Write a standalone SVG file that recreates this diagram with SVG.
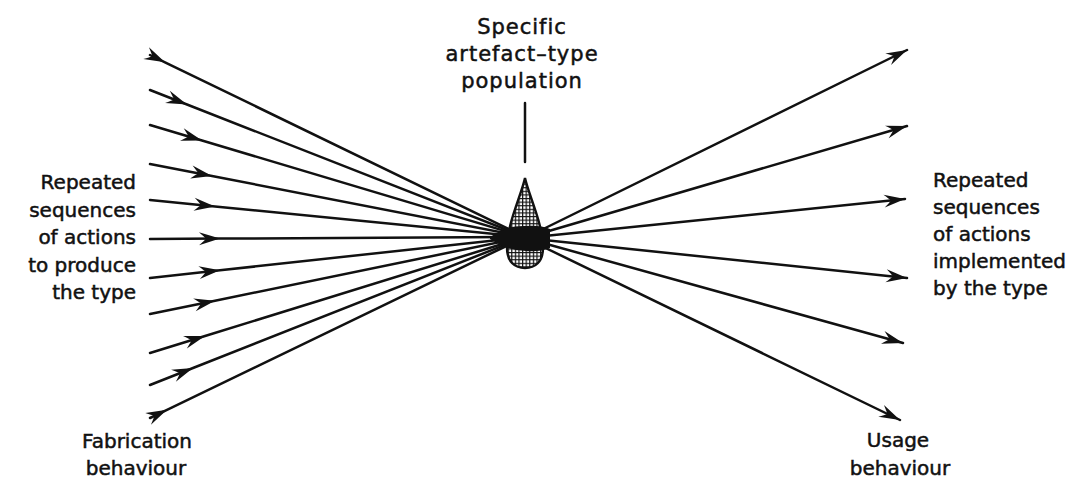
<svg xmlns="http://www.w3.org/2000/svg" width="1077" height="479" viewBox="0 0 1077 479">
<style>
  .lbl { font-family: "DejaVu Sans", "Liberation Sans", sans-serif; font-size: 20px; fill: #111; stroke: #111; stroke-width: 0.5; }
  .top { font-size: 21px; letter-spacing: 1px; }
  .ln { stroke: #111; stroke-width: 2.5; fill: none; stroke-linecap: round; }
  .in { marker-mid: url(#arr); }
  .out { marker-end: url(#arr); }
</style>
<defs>
  <marker id="arr" markerUnits="userSpaceOnUse" markerWidth="30" markerHeight="20" viewBox="-24 -10 30 20" refX="0" refY="0" orient="auto" overflow="visible">
    <path d="M0,0 L-21,-6.5 Q-16,-2 -14,0 Q-16,2 -21,6.5 Z" fill="#111"/>
  </marker>
  <pattern id="hatch" patternUnits="userSpaceOnUse" width="3.6" height="3.6">
    <rect width="3.6" height="3.6" fill="#fff"/>
    <path d="M0,0 H3.6 M0,0 V3.6" stroke="#111" stroke-width="2.4"/>
  </pattern>
</defs>
<rect width="1077" height="479" fill="#fff"/>

<g id="connectors">
  <path class="ln in" d="M150,55 L165,62.3 L525,237"/>
  <path class="ln in" d="M150,90 L187,104.5 L525,237"/>
  <path class="ln in" d="M150,125 L202,140.5 L525,237"/>
  <path class="ln in" d="M150,164 L212,176 L525,237"/>
  <path class="ln in" d="M150,200 L215,206.4 L525,237"/>
  <path class="ln in" d="M150,239 L220,238.6 L525,237"/>
  <path class="ln in" d="M150,278 L220,270.3 L525,237"/>
  <path class="ln in" d="M150,314 L215,300.7 L525,237"/>
  <path class="ln in" d="M150,353 L205,336 L525,237"/>
  <path class="ln in" d="M150,385 L193,368 L525,237"/>
  <path class="ln in" d="M150,418 L167,409.8 L525,237"/>
  <path class="ln out" d="M525,238 L907,50"/>
  <path class="ln out" d="M525,238 L907,126"/>
  <path class="ln out" d="M525,238 L905,199"/>
  <path class="ln out" d="M525,238 L907,278"/>
  <path class="ln out" d="M525,238 L903,343"/>
  <path class="ln out" d="M525,238 L900,420"/>
  <path class="ln" d="M525,103 L525,162" stroke-width="2.6"/>
</g>

<g id="population">
  <path d="M525,178 C521,196 507,224 507,248 C507,262 515,268 525,268 C535,268 543,262 543,248 C543,224 529,196 525,178 Z" fill="url(#hatch)" stroke="#111" stroke-width="2.4"/>
  <path d="M490,237 Q508,225 526,226 Q540,225 550,229 L550,248 Q540,252 526,251 Q508,251 490,239 Z" fill="#111"/>
  <text class="lbl top" text-anchor="middle" x="522" y="34">Specific</text>
  <text class="lbl top" text-anchor="middle" x="522" y="61">artefact–type</text>
  <text class="lbl top" text-anchor="middle" x="522" y="88">population</text>
</g>

<g id="fabrication">
  <text class="lbl" text-anchor="end" x="136" y="189">Repeated</text>
  <text class="lbl" text-anchor="end" x="136" y="216.5">sequences</text>
  <text class="lbl" text-anchor="end" x="136" y="244">of actions</text>
  <text class="lbl" text-anchor="end" x="136" y="271.5">to produce</text>
  <text class="lbl" text-anchor="end" x="136" y="299">the type</text>
  <text class="lbl" text-anchor="middle" x="137" y="448">Fabrication</text>
  <text class="lbl" text-anchor="middle" x="136" y="475">behaviour</text>
</g>

<g id="usage">
  <text class="lbl" x="933" y="187">Repeated</text>
  <text class="lbl" x="933" y="214">sequences</text>
  <text class="lbl" x="933" y="241">of actions</text>
  <text class="lbl" x="933" y="268">implemented</text>
  <text class="lbl" x="933" y="295">by the type</text>
  <text class="lbl" text-anchor="middle" x="898" y="447">Usage</text>
  <text class="lbl" text-anchor="middle" x="900" y="475">behaviour</text>
</g>
</svg>
